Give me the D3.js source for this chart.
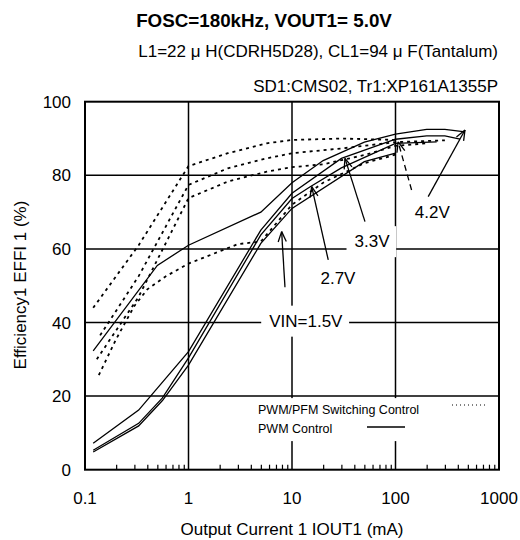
<!DOCTYPE html>
<html><head><meta charset="utf-8">
<script src="https://cdn.jsdelivr.net/npm/d3@7"></script>
<style>
body{margin:0;background:#fff;}
svg{font-family:"Liberation Sans", Arial, sans-serif;}
</style></head><body>
<svg id="c" width="520" height="540"></svg>
<script>
// ---------- text ----------
const title = "FOSC=180kHz, VOUT1= 5.0V";
const subtitle1 = "L1=22 μ H(CDRH5D28), CL1=94 μ F(Tantalum)";
const subtitle2 = "SD1:CMS02, Tr1:XP161A1355P";
const xTitle = "Output Current 1 IOUT1 (mA)";
const yTitle = "Efficiency1 EFFI 1 (%)";
const legendLabels = ["PWM/PFM Switching Control", "PWM  Control"];

// ---------- ticks ----------
const xTicks = [0.1, 1, 10, 100, 1000];
const xTickLabels = ["0.1", "1", "10", "100", "1000"];
const yTicks = [0, 20, 40, 60, 80, 100];
const yTickLabels = ["0", "20", "40", "60", "80", "100"];

// ---------- PWM control (solid) ----------
const pwm42I = [0.12, 0.5, 1, 5, 10, 20, 50, 100, 200, 300, 470];
const pwm42E = [32.3, 55.5, 61, 70, 78, 84, 89, 91.2, 92.5, 92.5, 91.8];
const pwm33I = [0.12, 0.33, 1, 5, 10, 30, 100, 200, 300, 420];
const pwm33E = [7.2, 16.2, 32.1, 65.1, 75.1, 84.6, 89.8, 90.7, 90.7, 89.8];
const pwm27I = [0.12, 0.33, 0.56, 1, 5, 10, 15, 30, 100, 250];
const pwm27E = [5.3, 12.6, 19.5, 30.4, 63.8, 73.7, 76.9, 82, 88.7, 89.1];
const pwm15I = [0.12, 0.33, 0.56, 1, 5, 10, 50, 100];
const pwm15E = [4.8, 11.9, 18.8, 28.4, 61.5, 71, 83.7, 86];

// ---------- PWM/PFM switching control (dotted) ----------
const pfm42I = [0.12, 0.33, 1, 2.4, 5.7, 10, 30, 100];
const pfm42E = [44, 61, 82.5, 86, 88.7, 89.6, 90, 89.6];
const pfm33I = [0.14, 0.33, 1, 2.4, 5.7, 10, 30, 100, 300];
const pfm33E = [36.5, 52.6, 77.4, 81.9, 84.6, 86, 87.3, 89, 89.5];
const pfm27I = [0.13, 0.33, 1, 2.4, 5.7, 10, 20, 50, 100, 200];
const pfm27E = [30, 47, 73.8, 78.3, 81, 82.2, 83, 85.5, 88, 88.7];
const pfm15I = [0.136, 0.2, 0.3, 0.4, 0.6, 1, 3, 5, 10, 20, 50, 100];
const pfm15E = [25.7, 35.5, 44.5, 49, 52.5, 56, 61.3, 62, 72, 78, 83.3, 85.6];

// ---------- annotations (data coords) ----------
const labelText = ["VIN=1.5V", "2.7V", "3.3V", "4.2V"];
const labelI = [13.6, 27.8, 59.3, 227];
const labelE = [40.5, 52.1, 62.1, 70];
const labelBox = [true, false, true, false];
// arrows: from (I,E) to tip (I,E), dashed?
const arrowFromI = [8.55, 22.4, 50.7, 207, 143];
const arrowFromE = [49.6, 57, 67.4, 74.2, 76];
const arrowToI = [7.94, 15.5, 32.5, 469, 106];
const arrowToE = [64.7, 76.9, 84.6, 92.3, 89.1];
const arrowDashed = [false, false, false, false, true];

// ---------- build ----------
const svg = d3.select("#c");
const L = 85, R = 499, T = 101.7, B = 469.7;
const x = d3.scaleLog().domain([0.1, 1000]).range([L, R]);
const y = d3.scaleLinear().domain([0, 100]).range([B, T]);

// titles
svg.append("text").attr("x", 264).attr("y", 27).attr("text-anchor", "middle")
  .attr("font-weight", "bold").attr("font-size", 18.8).text(title);
svg.append("text").attr("x", 498).attr("y", 57).attr("text-anchor", "end")
  .attr("font-size", 17).text(subtitle1);
svg.append("text").attr("x", 498).attr("y", 91.5).attr("text-anchor", "end")
  .attr("font-size", 17).text(subtitle2);

// grid
const g = svg.append("g");
g.selectAll(".vg").data(xTicks.slice(1, -1)).join("line")
  .attr("x1", d => x(d)).attr("x2", d => x(d)).attr("y1", T).attr("y2", B)
  .attr("stroke", "#000").attr("stroke-width", 1.5);
g.selectAll(".hg").data(yTicks.slice(1, -1)).join("line")
  .attr("y1", d => y(d)).attr("y2", d => y(d)).attr("x1", L).attr("x2", R)
  .attr("stroke", "#000").attr("stroke-width", 1.5);

// minor ticks on bottom axis (inward)
const minor = [];
[0.1, 1, 10, 100].forEach(d => { for (let k = 2; k <= 9; k++) minor.push(d * k); });
svg.append("g").attr("transform", `translate(0,${B})`)
  .call(d3.axisBottom(x).tickValues(minor).tickSize(-5).tickFormat(""))
  .call(a => a.select(".domain").remove())
  .selectAll("line").attr("stroke", "#000").attr("stroke-width", 1.2);

// frame
svg.append("rect").attr("x", L).attr("y", T).attr("width", R - L).attr("height", B - T)
  .attr("fill", "none").attr("stroke", "#000").attr("stroke-width", 2);

// tick labels
svg.selectAll(".xl").data(xTicks).join("text")
  .attr("x", d => x(d)).attr("y", 504).attr("text-anchor", "middle")
  .attr("font-size", 17).text((d, i) => xTickLabels[i]);
svg.selectAll(".yl").data(yTicks).join("text")
  .attr("x", 71).attr("y", d => y(d) + 6).attr("text-anchor", "end")
  .attr("font-size", 17).text((d, i) => yTickLabels[i]);

// axis titles
svg.append("text").attr("x", 292).attr("y", 535).attr("text-anchor", "middle")
  .attr("font-size", 17).text(xTitle);
svg.append("text").attr("transform", "translate(26,285) rotate(-90)").attr("text-anchor", "middle")
  .attr("font-size", 17).text(yTitle);

// legend box (white) and legend
const lg = svg.append("g");
lg.append("rect").attr("x", 250).attr("y", y(20) + 2).attr("width", R - 252).attr("height", 43).attr("fill", "#fff");
lg.append("text").attr("x", 258).attr("y", 414).attr("font-size", 12.5).text(legendLabels[0]);
lg.append("text").attr("x", 258).attr("y", 433).attr("font-size", 12.5).text(legendLabels[1]);
lg.append("line").attr("x1", 452).attr("x2", 488).attr("y1", 405).attr("y2", 405)
  .attr("stroke", "#000").attr("stroke-width", 1).attr("stroke-dasharray", "1,3");
lg.append("line").attr("x1", 367).attr("x2", 405).attr("y1", 427).attr("y2", 427)
  .attr("stroke", "#000").attr("stroke-width", 1.3);

// label backgrounds + labels
const labs = svg.append("g");
labelText.forEach((t, i) => {
  const tx = labs.append("text").attr("x", x(labelI[i])).attr("y", y(labelE[i]) + 6)
    .attr("text-anchor", "middle").attr("font-size", 17).text(t);
  if (labelBox[i]) {
    const bb = tx.node().getBBox();
    labs.insert("rect", "text").attr("x", bb.x - 8).attr("y", bb.y - 6)
      .attr("width", bb.width + 14).attr("height", bb.height + 12).attr("fill", "#fff");
  }
});

// curves
const line = d3.line().x(d => x(d[0])).y(d => y(d[1]));
const zip = (a, b) => a.map((v, i) => [v, b[i]]);
const solids = [[pwm42I, pwm42E], [pwm33I, pwm33E], [pwm27I, pwm27E], [pwm15I, pwm15E]];
const dots = [[pfm42I, pfm42E], [pfm33I, pfm33E], [pfm27I, pfm27E], [pfm15I, pfm15E]];
const cg = svg.append("g");
dots.forEach(s => cg.append("path").attr("d", line(zip(s[0], s[1])))
  .attr("fill", "none").attr("stroke", "#000").attr("stroke-width", 1.8).attr("stroke-dasharray", "3,4"));
solids.forEach(s => cg.append("path").attr("d", line(zip(s[0], s[1])))
  .attr("fill", "none").attr("stroke", "#000").attr("stroke-width", 1.3));

// arrows
const ag = svg.append("g");
arrowFromI.forEach((fi, i) => {
  const x1 = x(fi), y1 = y(arrowFromE[i]), x2 = x(arrowToI[i]), y2 = y(arrowToE[i]);
  const ang = Math.atan2(y2 - y1, x2 - x1);
  ag.append("line").attr("x1", x1).attr("y1", y1).attr("x2", x2).attr("y2", y2)
    .attr("stroke", "#000").attr("stroke-width", 1.3)
    .attr("stroke-dasharray", arrowDashed[i] ? "6,4" : null);
  const hl = 11, ha = 0.38;
  [ang + Math.PI - ha, ang + Math.PI + ha].forEach(a => {
    ag.append("line").attr("x1", x2).attr("y1", y2)
      .attr("x2", x2 + hl * Math.cos(a)).attr("y2", y2 + hl * Math.sin(a))
      .attr("stroke", "#000").attr("stroke-width", 1.3);
  });
});
</script>
</body></html>
